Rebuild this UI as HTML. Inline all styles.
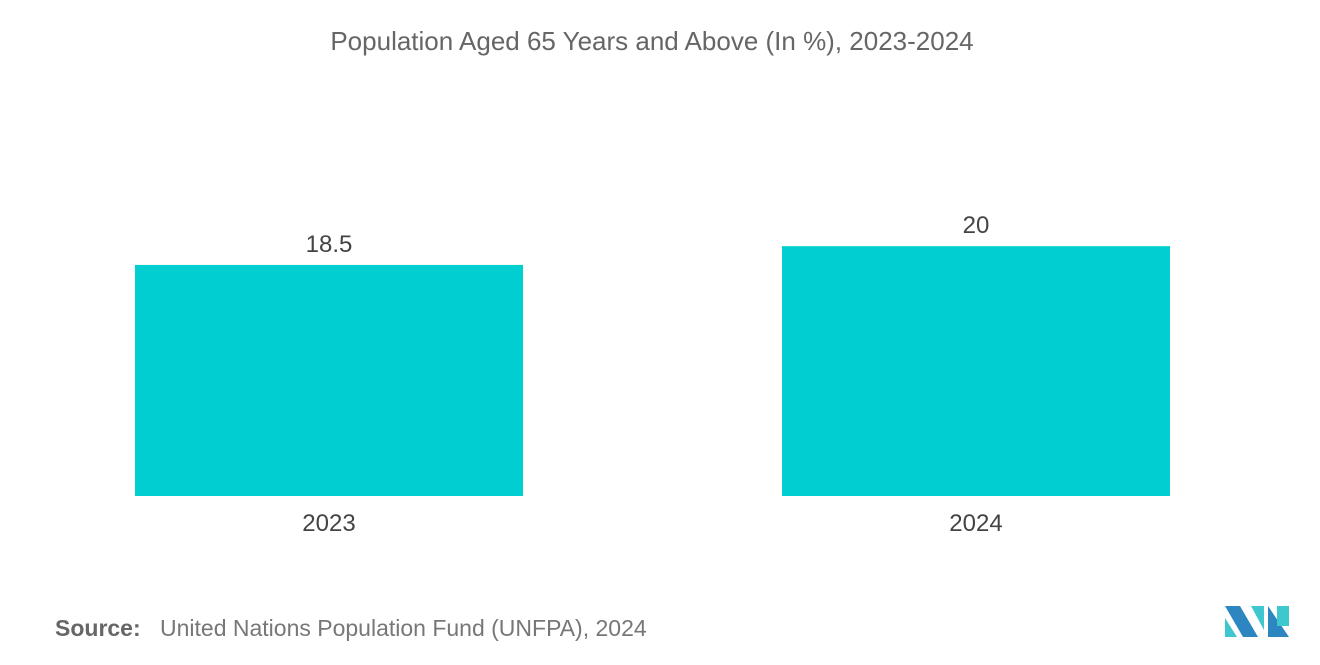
<!DOCTYPE html>
<html><head><meta charset="utf-8"><style>
body{margin:0;background:#fff;font-family:"Liberation Sans",sans-serif;}
#wrap{position:relative;width:1320px;height:665px;overflow:hidden}
</style></head><body>
<div id="wrap">
<svg id="chart" width="1320" height="665">
<text x="652" y="50" text-anchor="middle" font-size="26" fill="#666">Population Aged 65 Years and Above (In %), 2023-2024</text>
<g id="bars"></g>
<text x="55" y="636" font-size="23" fill="#666" font-weight="bold">Source:</text>
<text x="160" y="636" font-size="23" fill="#777">United Nations Population Fund (UNFPA), 2024</text>
<g>
<polygon points="1225,606 1240,606 1258,637 1243,637" fill="#2e86c1"/>
<polygon points="1225,618 1225,637 1237,637" fill="#3ec7cf"/>
<polygon points="1251,606 1264,606 1264,630" fill="#3ec7cf"/>
<polygon points="1268,606 1289,637 1268,637" fill="#2e86c1"/>
<rect x="1277" y="606" width="12" height="20" fill="#3ec7cf"/>
</g>
</svg>
</div>
<script>
const categories = ["2023","2024"];
const values = [18.5, 20];
const valueLabels = ["18.5","20"];
const baseY = 496, pxPerUnit = 12.49;
const y = v => baseY - v * pxPerUnit;
const barX = i => 135 + i * 647;
const barW = 388;
const ns = "http://www.w3.org/2000/svg";
const g = document.getElementById('bars');
categories.forEach((c, i) => {
  const r = document.createElementNS(ns, 'rect');
  r.setAttribute('x', barX(i));
  r.setAttribute('y', y(values[i]));
  r.setAttribute('width', barW);
  r.setAttribute('height', baseY - y(values[i]));
  r.setAttribute('fill', '#00ced1');
  
  
  g.appendChild(r);
  const t = document.createElementNS(ns, 'text');
  t.setAttribute('x', barX(i) + barW / 2);
  t.setAttribute('y', y(values[i]) - 13);
  t.setAttribute('text-anchor', 'middle');
  t.setAttribute('font-size', '24');
  t.setAttribute('fill', '#444');
  t.textContent = valueLabels[i];
  
  
  g.appendChild(t);
  const l = document.createElementNS(ns, 'text');
  l.setAttribute('x', barX(i) + barW / 2);
  l.setAttribute('y', 531);
  l.setAttribute('text-anchor', 'middle');
  l.setAttribute('font-size', '24');
  l.setAttribute('fill', '#444');
  l.textContent = c;
  
  
  g.appendChild(l);
});
</script>
</body></html>
